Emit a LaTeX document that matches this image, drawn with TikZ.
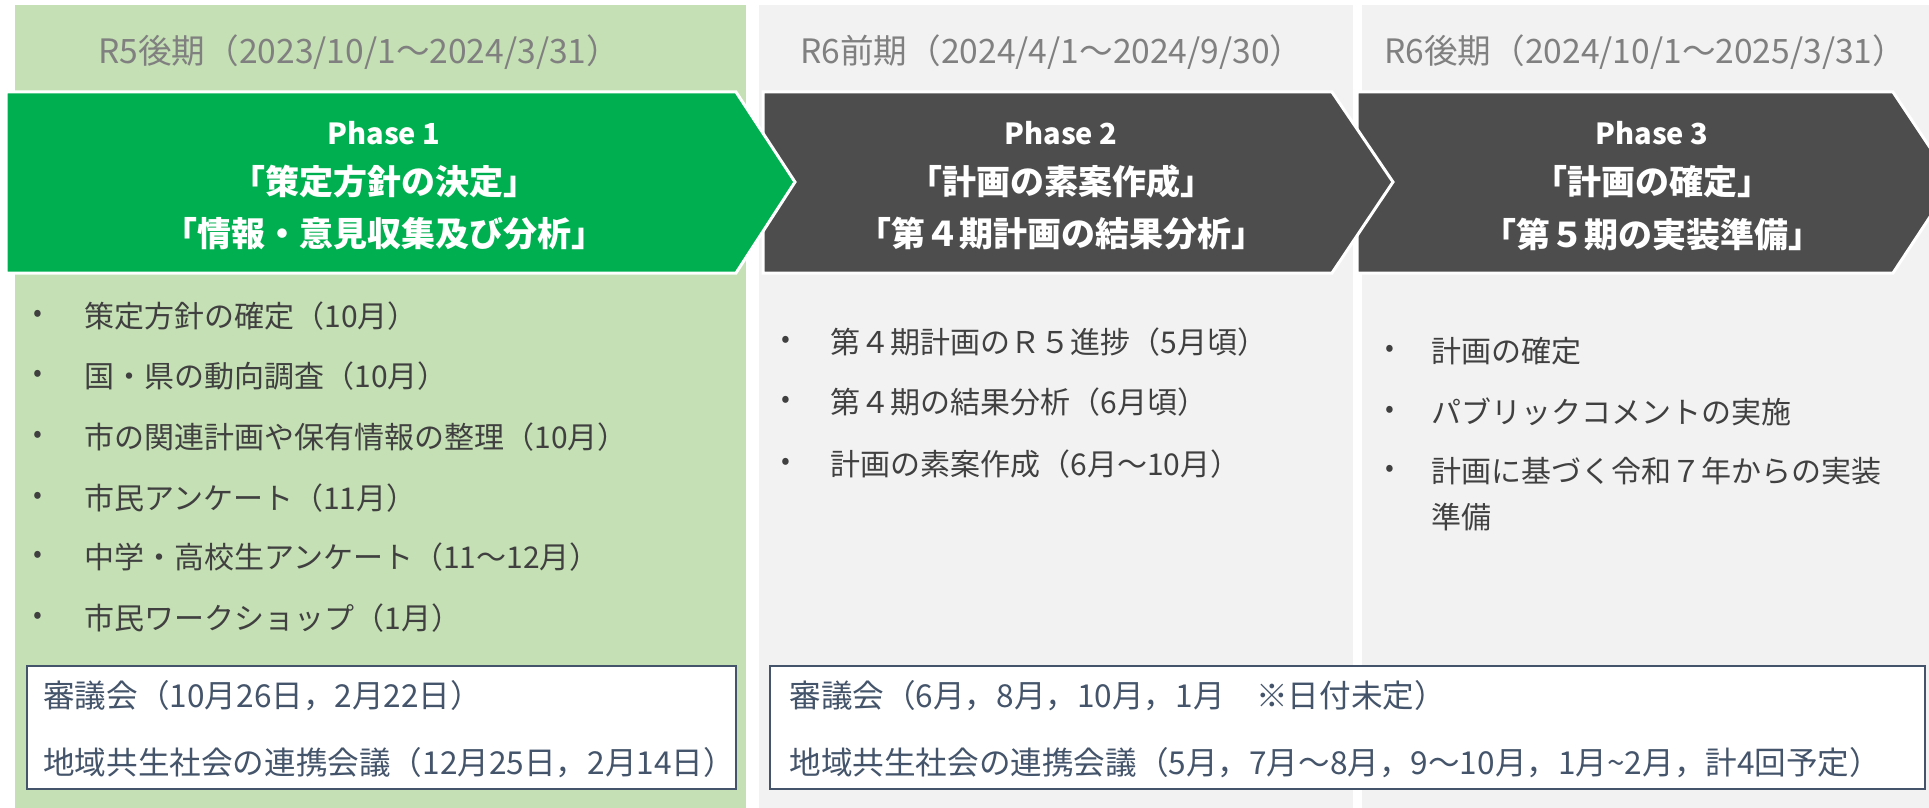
\documentclass[tikz,border=0pt]{standalone}
\usepackage{fontspec}
\setmainfont{Noto Sans CJK JP}
\definecolor{bgGreen}{HTML}{C5E0B4}
\definecolor{bgGray}{HTML}{F2F2F2}
\definecolor{arGreen}{HTML}{00B050}
\definecolor{arDark}{HTML}{4D4D4D}
\definecolor{hdrGray}{HTML}{808080}
\definecolor{txtGray}{HTML}{404040}
\definecolor{slate}{HTML}{44546A}
\begin{document}
\begin{tikzpicture}[x=0.5pt,y=-0.5pt,
  hdr/.style={anchor=west,text=hdrGray,inner sep=0pt,font=\fontsize{16.8}{19}\selectfont},
  phasebox/.style={draw=white,line width=1.5pt,line join=miter},
  phasetitle/.style={text=white,inner sep=0pt,font=\bfseries\fontsize{14.5}{17}\selectfont},
  phasetext/.style={text=white,inner sep=0pt,font=\bfseries\fontsize{17}{19}\selectfont},
  dotmark/.style={anchor=center,text=txtGray,inner sep=0pt,font=\fontsize{13}{15}\selectfont},
  item/.style={anchor=west,text=txtGray,inner sep=0pt,font=\fontsize{15}{17}\selectfont},
  meetbox/.style={draw=slate,fill=white,line width=1pt},
  meettext/.style={anchor=west,text=slate,inner sep=0pt,font=\fontsize{15.8}{18}\selectfont}]
\useasboundingbox (0,0) rectangle (1929,808);
\clip (0,0) rectangle (1929,808);
\fill[white] (0,0) rectangle (1929,808);
% column backgrounds
\fill[bgGreen] (15,5) rectangle (746,808);
\fill[bgGray] (759,5) rectangle (1353,808);
\fill[bgGray] (1362,5) rectangle (1929,808);
% headers
\node[hdr] (h1) at (98,52) {R5後期（2023/10/1～2024/3/31）};
\node[hdr] (h2) at (800,52) {R6前期（2024/4/1～2024/9/30）};
\node[hdr] (h3) at (1384,52) {R6後期（2024/10/1～2025/3/31）};
% phase arrows
\draw[phasebox,fill=arDark] (1357,92) -- (1893,92) -- (1953,182) -- (1893,273) -- (1357,273) -- cycle;
\draw[phasebox,fill=arDark] (763,92) -- (1332,92) -- (1393,182) -- (1332,273) -- (763,273) -- cycle;
\draw[phasebox,fill=arGreen] (6,92) -- (736,92) -- (795,182) -- (736,273) -- (6,273) -- cycle;
\node[phasetitle] (p1a) at (384,133) {Phase 1};
\node[phasetext] (p1b) at (384,182) {「策定方針の決定」};
\node[phasetext] (p1c) at (384,234) {「情報・意見収集及び分析」};
\node[phasetitle] (p2a) at (1061,133) {Phase 2};
\node[phasetext] (p2b) at (1061,182) {「計画の素案作成」};
\node[phasetext] (p2c) at (1061,234) {「第４期計画の結果分析」};
\node[phasetitle] (p3a) at (1652,133) {Phase 3};
\node[phasetext] (p3b) at (1652,182) {「計画の確定」};
\node[phasetext] (p3c) at (1652,234) {「第５期の実装準備」};
% column 1 items
\foreach \y/\t [count=\i] in {316/策定方針の確定（10月）,376/国・県の動向調査（10月）,437/市の関連計画や保有情報の整理（10月）,498/市民アンケート（11月）,557/中学・高校生アンケート（11～12月）,618/市民ワークショップ（1月）}{
  \node[dotmark] (d1\i) at (38,\y) {•};
  \node[item] (b1\i) at (84,\y) {\t};
}
% column 2 items
\foreach \y/\t [count=\i] in {342/第４期計画のＲ５進捗（5月頃）,402/第４期の結果分析（6月頃）,464/計画の素案作成（6月～10月）}{
  \node[dotmark] (d2\i) at (786,\y) {•};
  \node[item] (b2\i) at (830,\y) {\t};
}
% column 3 items
\foreach \y/\t [count=\i] in {351/計画の確定,412/パブリックコメントの実施,471/計画に基づく令和７年からの実装}{
  \node[dotmark] (d3\i) at (1390,\y) {•};
  \node[item] (b3\i) at (1431,\y) {\t};
}
\node[item] (b3c) at (1431,517) {準備};
% meeting boxes
\draw[meetbox] (27,666) rectangle (736,789);
\node[meettext] (m1a) at (43,696) {審議会（10月26日，2月22日）};
\node[meettext] (m1b) at (43,763) {地域共生社会の連携会議（12月25日，2月14日）};
\draw[meetbox] (770,666) rectangle (1925,789);
\node[meettext] (m2a) at (789,696) {審議会（6月，8月，10月，1月　※日付未定）};
\node[meettext] (m2b) at (789,763) {地域共生社会の連携会議（5月，7月～8月，9～10月，1月\textasciitilde 2月，計4回予定）};
\end{tikzpicture}
\end{document}
